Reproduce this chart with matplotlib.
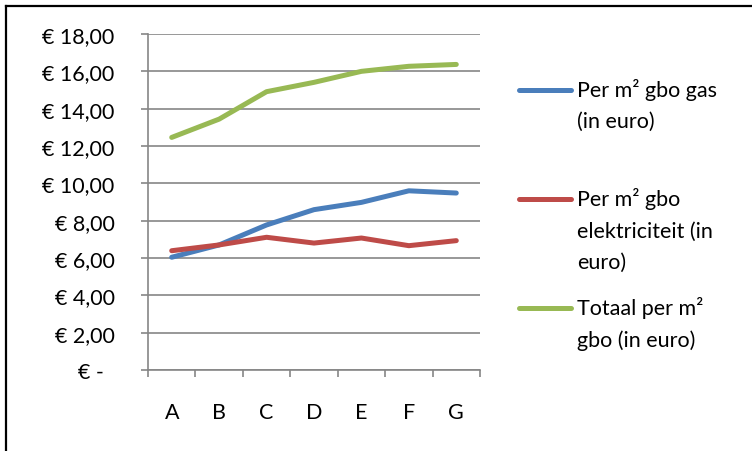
import matplotlib
matplotlib.use("Agg")
import matplotlib.pyplot as plt
from matplotlib.lines import Line2D

categories = ["A", "B", "C", "D", "E", "F", "G"]
gas = [6.04, 6.70, 7.77, 8.59, 8.98, 9.60, 9.48]
elektriciteit = [6.39, 6.70, 7.11, 6.80, 7.07, 6.66, 6.93]
totaal = [12.46, 13.44, 14.91, 15.41, 16.00, 16.27, 16.37]
series_labels = ["Per m² gbo gas\n(in euro)",
                 "Per m² gbo\nelektriciteit (in\neuro)",
                 "Totaal per m²\ngbo (in euro)"]
yticks = [0, 2, 4, 6, 8, 10, 12, 14, 16, 18]
ytick_labels = ["€ -  ", "€ 2,00", "€ 4,00", "€ 6,00", "€ 8,00", "€ 10,00",
                "€ 12,00", "€ 14,00", "€ 16,00", "€ 18,00"]

colors = ["#4A7EBB", "#BE4B48", "#98B954"]
grid_c = "#868686"
FONT = ["Lato", "DejaVu Sans"]
FS = 15.5

plt.rcParams["font.family"] = FONT

W, H = 752, 452
fig = plt.figure(figsize=(W / 100, H / 100), dpi=100)

# outer frame
fig.add_artist(Line2D([5.5 / W, 5.5 / W], [0, 1 - 6.5 / H], transform=fig.transFigure,
                      color="black", lw=1.6))
fig.add_artist(Line2D([5.5 / W, 1], [1 - 6.5 / H, 1 - 6.5 / H], transform=fig.transFigure,
                      color="black", lw=1.6))

left, right, top, bottom = 148, 480, 35, 371
ax = fig.add_axes([left / W, 1 - bottom / H, (right - left) / W, (bottom - top) / H])

x = list(range(len(categories)))
for vals, c in zip([gas, elektriciteit, totaal], colors):
    ax.plot(x, vals, color=c, lw=3.6, solid_capstyle="round", solid_joinstyle="round",
            zorder=3)

ax.set_xlim(-0.5, len(categories) - 0.5)
ax.set_ylim(0, 18)
ax.set_yticks(yticks)
ax.set_yticklabels(ytick_labels, fontsize=FS)
ax.set_xticks(x)
ax.set_xticklabels(categories, fontsize=FS)
ax.set_xticks([i - 0.5 for i in range(len(categories) + 1)], minor=True)

ax.tick_params(axis="x", which="major", length=0, pad=23)
ax.tick_params(axis="x", which="minor", length=5, width=1.2, color=grid_c, direction="out")
ax.tick_params(axis="y", which="major", length=5, width=1.2, color=grid_c, pad=19,
               direction="out")

ax.grid(axis="y", color=grid_c, lw=1.2, zorder=1)
for s in ["top", "right"]:
    ax.spines[s].set_visible(False)
for s in ["left", "bottom"]:
    ax.spines[s].set_color(grid_c)
    ax.spines[s].set_linewidth(1.2)
ax.set_axisbelow(True)

# legend drawn manually
legend_y = [90.5, 200, 308.5]
for lbl, c, yy in zip(series_labels, colors, legend_y):
    fig.add_artist(Line2D([519 / W, 571 / W], [1 - yy / H, 1 - yy / H],
                          transform=fig.transFigure, color=c, lw=3.6,
                          solid_capstyle="round"))
    fig.text(577 / W, 1 - (yy - 11.5) / H, lbl, fontsize=FS, va="top", ha="left",
             linespacing=1.7, color="black")

fig.savefig("out.png", dpi=100)
